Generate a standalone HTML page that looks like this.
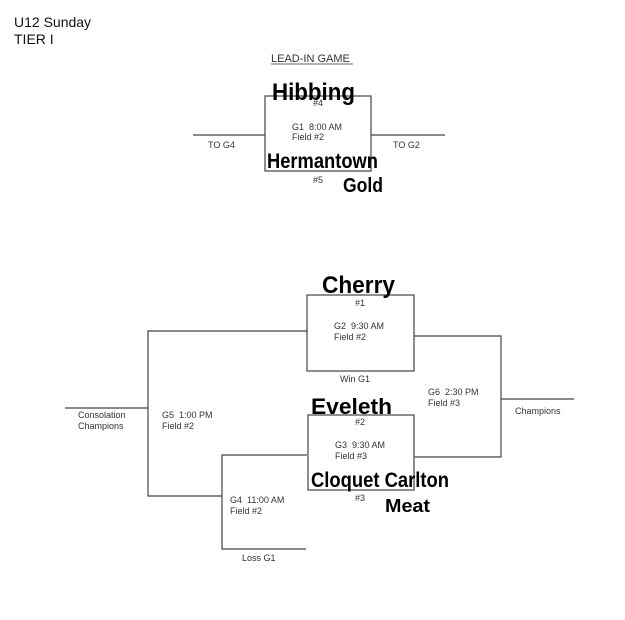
<!DOCTYPE html>
<html><head><meta charset="utf-8"><style>
html,body{margin:0;padding:0;background:#fff;width:625px;height:620px;overflow:hidden}
svg{display:block}
.t{font-family:"Liberation Sans",sans-serif;font-size:9px;fill:#333;white-space:pre}
.h{font-family:"Liberation Sans",sans-serif;font-weight:bold;fill:#000}
</style></head><body>
<svg width="625" height="620" viewBox="0 0 625 620" xmlns="http://www.w3.org/2000/svg" xml:space="preserve">
<g stroke="#444" stroke-width="1.2" fill="none">
<rect x="265" y="96" width="106" height="75"/>
<line x1="193" y1="135" x2="265" y2="135"/>
<line x1="371" y1="135" x2="445" y2="135"/>
<rect x="307" y="295" width="107" height="76"/>
<rect x="308" y="415" width="106" height="75"/>
<polyline points="307,331 148,331 148,496 222,496"/>
<polyline points="307,455 222,455 222,549 306,549"/>
<polyline points="414,336 501,336 501,457 414,457"/>
<line x1="501" y1="399" x2="574" y2="399"/>
<line x1="65" y1="408" x2="148" y2="408"/>
</g>
<text x="14" y="27" font-family="Liberation Sans,sans-serif" font-size="14" fill="#111">U12 Sunday</text>
<text x="14" y="44" font-family="Liberation Sans,sans-serif" font-size="14" fill="#111">TIER I</text>
<text x="271" y="62" class="t" style="font-size:11px">LEAD-IN GAME</text>
<line x1="271" y1="64" x2="353" y2="64" stroke="#333" stroke-width="0.8"/>
<text x="313" y="106" class="t">#4</text>
<text x="292" y="130" class="t">G1  8:00 AM</text>
<text x="292" y="140" class="t">Field #2</text>
<text x="313" y="183" class="t">#5</text>
<text x="208" y="148" class="t">TO G4</text>
<text x="393" y="148" class="t">TO G2</text>
<text x="355" y="306" class="t">#1</text>
<text x="334" y="329" class="t">G2  9:30 AM</text>
<text x="334" y="340" class="t">Field #2</text>
<text x="340" y="382" class="t">Win G1</text>
<text x="355" y="425" class="t">#2</text>
<text x="335" y="448" class="t">G3  9:30 AM</text>
<text x="335" y="459" class="t">Field #3</text>
<text x="355" y="501" class="t">#3</text>
<text x="162" y="418" class="t">G5  1:00 PM</text>
<text x="162" y="429" class="t">Field #2</text>
<text x="230" y="503" class="t">G4  11:00 AM</text>
<text x="230" y="514" class="t">Field #2</text>
<text x="242" y="561" class="t">Loss G1</text>
<text x="428" y="395" class="t">G6  2:30 PM</text>
<text x="428" y="406" class="t">Field #3</text>
<text x="515" y="414" class="t">Champions</text>
<text x="78" y="418" class="t">Consolation</text>
<text x="78" y="429" class="t">Champions</text>
<text x="272" y="100" class="h" font-size="24" textLength="83" lengthAdjust="spacingAndGlyphs">Hibbing</text>
<text x="267" y="168" class="h" font-size="21" textLength="111" lengthAdjust="spacingAndGlyphs">Hermantown</text>
<text x="343" y="192" class="h" font-size="20" textLength="40" lengthAdjust="spacingAndGlyphs">Gold</text>
<text x="322" y="293" class="h" font-size="24" textLength="73" lengthAdjust="spacingAndGlyphs">Cherry</text>
<text x="311" y="414" class="h" font-size="22" textLength="81" lengthAdjust="spacingAndGlyphs">Eveleth</text>
<text x="311" y="487" class="h" font-size="21" textLength="138" lengthAdjust="spacingAndGlyphs">Cloquet Carlton</text>
<text x="385" y="512" class="h" font-size="18" textLength="45" lengthAdjust="spacingAndGlyphs">Meat</text>
</svg>
</body></html>
